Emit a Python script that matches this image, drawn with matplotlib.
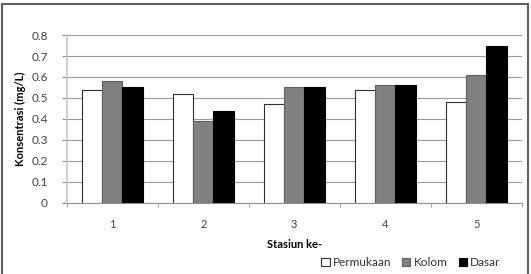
import numpy as np
import matplotlib.pyplot as plt
from matplotlib.patches import Rectangle

# Daten
stasiun = ["1", "2", "3", "4", "5"]
permukaan = [0.54, 0.52, 0.47, 0.54, 0.48]
kolom = [0.58, 0.39, 0.55, 0.56, 0.61]
dasar = [0.55, 0.44, 0.55, 0.56, 0.75]

plt.rcParams['font.family'] = ['Lato', 'DejaVu Sans']

fig = plt.figure(figsize=(5.31, 2.74), dpi=100)
ax = fig.add_axes([0.1256, 0.260, 0.857, 0.612])

x = np.arange(len(stasiun))
w = 0.223
ax.bar(x - w, permukaan, w, color='white', edgecolor='#303030', linewidth=0.8, label='Permukaan', zorder=3)
ax.bar(x, kolom, w, color='#808080', edgecolor='#606060', linewidth=0.8, label='Kolom', zorder=3)
ax.bar(x + w, dasar, w, color='black', edgecolor='black', linewidth=0.8, label='Dasar', zorder=3)

ax.set_xlim(-0.5, 4.5)
ax.set_ylim(0, 0.8)
ax.set_yticks(np.arange(0, 0.81, 0.1))
ax.set_yticklabels(['0'] + ['%.1f' % v for v in np.arange(0.1, 0.81, 0.1)])
ax.set_xticks(x)
ax.set_xticklabels(stasiun)
ax.set_xticks(np.arange(-0.5, 4.6, 1), minor=True)
ax.tick_params(axis='x', which='major', length=0, pad=12, labelsize=8, labelcolor='#404040')
ax.tick_params(axis='x', which='minor', length=3, color='#909090', direction='out')
ax.tick_params(axis='y', length=3.6, color='#909090', pad=10, labelsize=8.5, labelcolor='#404040')

ax.grid(axis='y', color='#9a9a9a', linewidth=0.8, zorder=0)
for s in ['top', 'right']:
    ax.spines[s].set_visible(False)
ax.spines['left'].set_color('#c8c8c8')
ax.spines['left'].set_linewidth(1.2)
ax.spines['bottom'].set_color('#909090')

ax.set_xlabel('Stasiun ke-', fontsize=8, fontweight='bold', labelpad=6)
ax.set_ylabel('Konsentrasi (mg/L)', fontsize=8, fontweight='bold', labelpad=3.5)

fig.legend(loc='center', bbox_to_anchor=(0.774, 0.041), ncol=3, frameon=False,
           fontsize=8.5, handlelength=0.7, handleheight=0.7, handletextpad=0.3,
           columnspacing=0.9, labelcolor='#303030')

# Rahmen um das Diagramm
fig.patches.append(Rectangle((1.5/531, -0.01), 526/531, 1 - 4/274 + 0.01,
                             transform=fig.transFigure, fill=False,
                             edgecolor='#606060', linewidth=1.5))

fig.savefig('out.png', dpi=100)
